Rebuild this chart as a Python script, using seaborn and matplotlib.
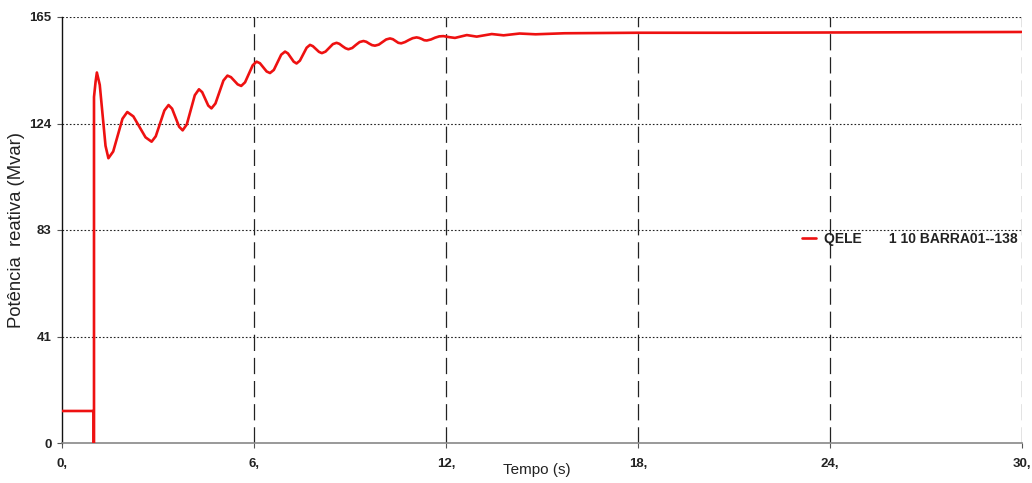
import matplotlib
matplotlib.use("Agg")
import matplotlib.pyplot as plt
import seaborn as sns
import pandas as pd

# Reactive power of bus BARRA01 (Mvar) over simulation time (s)
tempo = [
    0.0, 0.99, 0.99, 1.00, 1.00, 1.05, 1.09, 1.18, 1.27, 1.36, 1.45,
    1.60, 1.745, 1.89, 2.04, 2.23, 2.42, 2.61, 2.80,
    2.93, 3.065, 3.20, 3.33, 3.44, 3.55, 3.66, 3.77,
    3.90, 4.025, 4.15, 4.28, 4.38, 4.475, 4.57, 4.67,
    4.795, 4.92, 5.045, 5.17, 5.28, 5.385, 5.49, 5.60,
    5.72, 5.84, 5.96, 6.08, 6.185, 6.29, 6.395, 6.50,
    6.62, 6.735, 6.85, 6.97, 7.06, 7.15, 7.24, 7.33,
    7.435, 7.54, 7.645, 7.75, 7.84, 7.935, 8.03, 8.12,
    8.235, 8.35, 8.465, 8.58, 8.67, 8.765, 8.86, 8.95,
    9.07, 9.185, 9.30, 9.42, 9.51, 9.60, 9.69, 9.78,
    9.90, 10.015, 10.13, 10.25, 10.34, 10.425, 10.51, 10.60,
    10.72, 10.84, 10.96, 11.08, 11.16, 11.24, 11.32, 11.40,
    11.53, 11.66, 11.79, 11.92, 12.10, 12.28, 12.65, 12.96,
    13.43, 13.80, 14.30, 14.80, 15.70, 18.00, 21.00, 24.00, 30.00,
]
qele = [
    12.4, 12.4, 0.0, 0.0, 134.0, 140.0, 143.5, 138.7, 126.9, 115.1, 110.3,
    112.9, 119.25, 125.6, 128.2, 126.5, 122.45, 118.4, 116.7,
    118.8, 123.8, 128.8, 130.9, 129.5, 126.0, 122.5, 121.1,
    123.4, 129.05, 134.7, 137.0, 135.9, 133.3, 130.7, 129.6,
    131.5, 135.95, 140.4, 142.3, 141.7, 140.3, 138.9, 138.3,
    139.7, 143.0, 146.3, 147.7, 147.1, 145.5, 143.9, 143.3,
    144.5, 147.45, 150.4, 151.6, 150.9, 149.3, 147.7, 147.0,
    148.1, 150.6, 153.1, 154.2, 153.7, 152.6, 151.5, 151.0,
    151.6, 153.05, 154.5, 155.0, 154.6, 153.7, 152.9, 152.5,
    153.0, 154.2, 155.3, 155.7, 155.4, 154.7, 154.1, 153.9,
    154.3, 155.3, 156.3, 156.7, 156.4, 155.7, 155.0, 154.8,
    155.3, 156.1, 156.8, 157.1, 156.9, 156.5, 156.0, 155.9,
    156.3, 157.0, 157.5, 157.6, 157.2, 156.9, 158.0, 157.4,
    158.4, 157.9, 158.6, 158.3, 158.7, 158.9, 158.9, 159.0, 159.2,
]

x_ticks = [0, 6, 12, 18, 24, 30]
x_tick_labels = ["0,", "6,", "12,", "18,", "24,", "30,"]
y_ticks = [0, 41.25, 82.5, 123.75, 165]
y_tick_labels = ["0", "41", "83", "124", "165"]
serie = "QELE       1 10 BARRA01--138"

df = pd.DataFrame({"Tempo": tempo, "Q": qele})

sns.set_theme(style="white")
plt.rcParams["font.family"] = ["Liberation Sans", "DejaVu Sans"]

fig = plt.figure(figsize=(10.32, 4.83), dpi=100)
ax = fig.add_axes([62 / 1032, 40 / 483, 960 / 1032, 426 / 483])

sns.lineplot(data=df, x="Tempo", y="Q", ax=ax, estimator=None, sort=False,
             color="#ee1111", linewidth=1.9, label=serie, zorder=3)

ax.set_xlim(0, 30)
ax.set_ylim(0, 165)

# grid: long dashes on time axis, dotted on power axis
for xv in x_ticks[1:]:
    ax.axvline(xv, color="#222222", linewidth=0.9, dashes=(13, 5.5), zorder=1)
for yv in y_ticks[1:]:
    ax.axhline(yv, color="#222222", linewidth=0.8, dashes=(1.5, 1.8), zorder=1)

ax.set_xticks(x_ticks)
ax.set_xticklabels(x_tick_labels, fontsize=9.5, fontweight="bold", color="#222222")
ax.set_yticks(y_ticks)
ax.set_yticklabels(y_tick_labels, fontsize=9.5, fontweight="bold", color="#222222")
ax.tick_params(axis="both", which="major", length=3.5, width=0.8, color="#555555",
               bottom=True, left=True, pad=4)
ax.tick_params(axis="x", pad=7)

for side in ("top", "right"):
    ax.spines[side].set_visible(False)
ax.spines["left"].set_color("#111111")
ax.spines["left"].set_linewidth(1.0)
ax.spines["bottom"].set_color("#888888")
ax.spines["bottom"].set_linewidth(1.2)

ax.set_xlabel("")
ax.set_ylabel("Potência  reativa (Mvar)", fontsize=13.3, color="#222222", labelpad=3)
fig.text(537 / 1032, 1 - 470 / 483, "Tempo (s)", fontsize=11, color="#222222",
         ha="center", va="center")

leg = ax.legend(loc="center left", bbox_to_anchor=(0.765, 0.48), frameon=False,
                handlelength=1.0, handletextpad=0.6, borderaxespad=0,
                prop={"size": 10, "weight": "bold"})
for txt in leg.get_texts():
    txt.set_color("#222222")

fig.savefig("out.png", dpi=100, facecolor="white")
